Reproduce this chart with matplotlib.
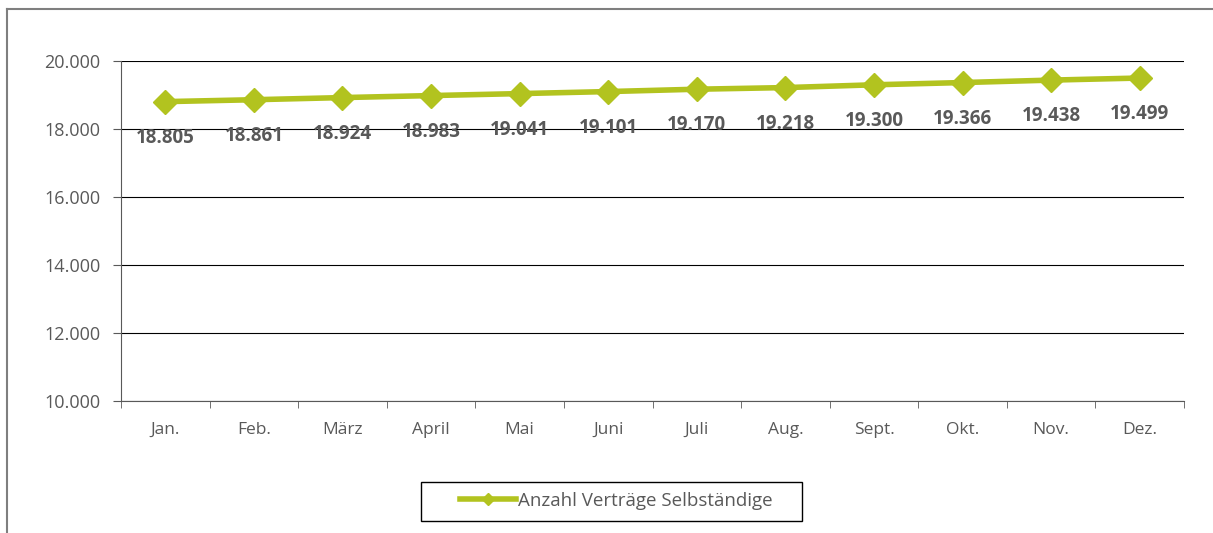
import matplotlib.pyplot as plt
from matplotlib.lines import Line2D
from matplotlib.patches import Rectangle

months = ["Jan.", "Feb.", "März", "April", "Mai", "Juni", "Juli", "Aug.", "Sept.", "Okt.", "Nov.", "Dez."]
vertraege = [18805, 18861, 18924, 18983, 19041, 19101, 19170, 19218, 19300, 19366, 19438, 19499]
y_ticks = [10000, 12000, 14000, 16000, 18000, 20000]

green = "#B2C31F"
grey = "#595959"

plt.rcParams["font.family"] = ["Open Sans", "DejaVu Sans"]


def de_fmt(v):
    return f"{v:,}".replace(",", ".")


W, H = 1213, 533
fig = plt.figure(figsize=(W / 100, H / 100), dpi=100)
ax = fig.add_axes([121 / W, 1 - 401 / H, (1184 - 121) / W, (401 - 61) / H])

x = list(range(len(months)))
ax.plot(x, vertraege, color=green, linewidth=4, marker="D", markersize=12)

for xi, v in zip(x, vertraege):
    ax.annotate(de_fmt(v), (xi, v), xytext=(0, -26), textcoords="offset points",
                ha="center", va="center", fontsize=13.5, fontweight="bold", color=grey)

ax.set_xlim(-0.5, len(months) - 0.5)
ax.set_ylim(10000, 20000)
ax.set_yticks(y_ticks)
ax.set_yticklabels([de_fmt(t) for t in y_ticks], fontsize=13, color=grey)
ax.yaxis.grid(True, color="black", linewidth=0.8)
ax.set_axisbelow(True)

# category labels centered, tick marks on the boundaries
ax.set_xticks(x)
ax.set_xticklabels(months, fontsize=12.5, color=grey)
ax.tick_params(axis="x", length=0, pad=15)
ax.set_xticks([i - 0.5 for i in range(len(months) + 1)], minor=True)
ax.tick_params(axis="x", which="minor", length=5, color=grey)
ax.tick_params(axis="y", length=6, color=grey, pad=9)

for s in ["top", "right"]:
    ax.spines[s].set_visible(False)
ax.spines["left"].set_color(grey)
ax.spines["bottom"].set_color(grey)

# legend (frame drawn separately for Excel-like padding)
handle = Line2D([], [], color=green, linewidth=4, marker="D", markersize=6)
leg = fig.legend([handle], ["Anzahl Verträge Selbständige"], loc="center",
                 bbox_to_anchor=(616 / W, 1 - 501 / H), fontsize=13.5,
                 frameon=False, handlelength=3.0, handletextpad=0.1,
                 borderpad=0, borderaxespad=0)
for t in leg.get_texts():
    t.set_color(grey)
fig.add_artist(Rectangle((421 / W, 1 - 521 / H), 381 / W, 39 / H, fill=False,
                         edgecolor="black", linewidth=1.0, transform=fig.transFigure))

# outer chart frame (left and top only visible in the crop)
fig.add_artist(Line2D([7 / W, 7 / W], [0, 1 - 9 / H], color="#7f7f7f", linewidth=1.5))
fig.add_artist(Line2D([7 / W, 1], [1 - 9 / H, 1 - 9 / H], color="#7f7f7f", linewidth=1.5))

fig.savefig("out.png", dpi=100)
